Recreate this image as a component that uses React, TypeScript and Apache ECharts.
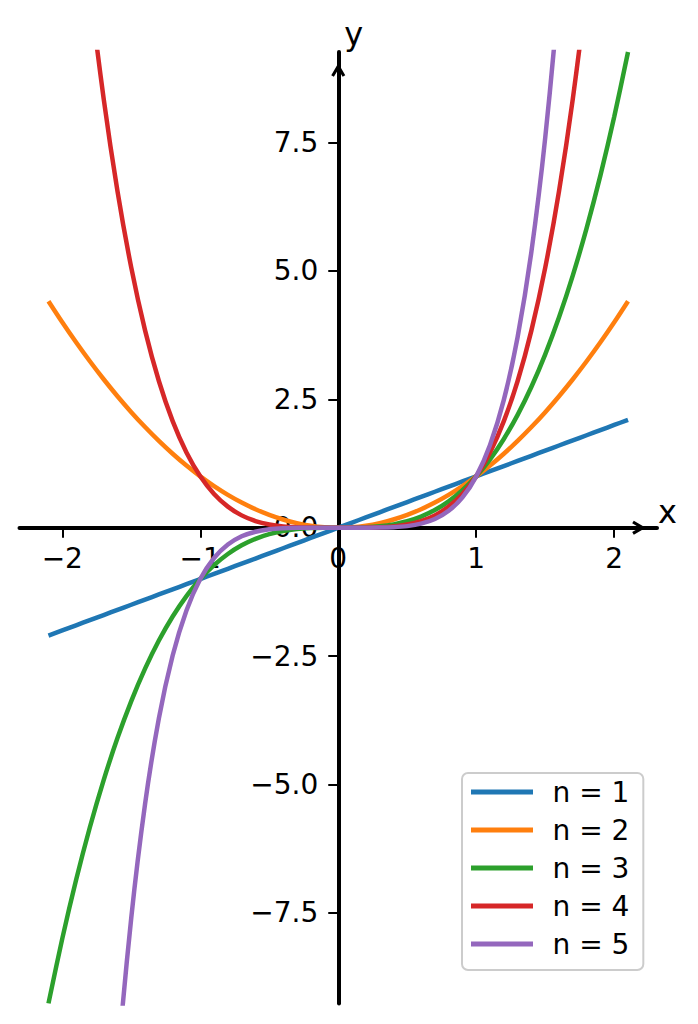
import React, { useEffect, useRef } from "react";
import * as echarts from "echarts";

// Sample positions along x and the value of x^n at each of them
const xValues = [
  -2.1, -2.0, -1.9, -1.8, -1.7, -1.6, -1.5, -1.4, -1.3, -1.2, -1.1, -1.0, -0.9, -0.8, -0.7, -0.6, -0.5, -0.4, -0.3, -0.2, -0.1,
  0, 0.1, 0.2, 0.3, 0.4, 0.5, 0.6, 0.7, 0.8, 0.9, 1.0, 1.1, 1.2, 1.3, 1.4, 1.5, 1.6, 1.7, 1.8, 1.9, 2.0, 2.1,
];
const powerN1 = [
  -2.1, -2.0, -1.9, -1.8, -1.7, -1.6, -1.5, -1.4, -1.3, -1.2, -1.1, -1.0, -0.9, -0.8, -0.7, -0.6, -0.5, -0.4, -0.3, -0.2, -0.1,
  0, 0.1, 0.2, 0.3, 0.4, 0.5, 0.6, 0.7, 0.8, 0.9, 1.0, 1.1, 1.2, 1.3, 1.4, 1.5, 1.6, 1.7, 1.8, 1.9, 2.0, 2.1,
];
const powerN2 = [
  4.41, 4.0, 3.61, 3.24, 2.89, 2.56, 2.25, 1.96, 1.69, 1.44, 1.21, 1.0, 0.81, 0.64, 0.49, 0.36, 0.25, 0.16, 0.09, 0.04, 0.01,
  0, 0.01, 0.04, 0.09, 0.16, 0.25, 0.36, 0.49, 0.64, 0.81, 1.0, 1.21, 1.44, 1.69, 1.96, 2.25, 2.56, 2.89, 3.24, 3.61, 4.0, 4.41,
];
const powerN3 = [
  -9.261, -8.0, -6.859, -5.832, -4.913, -4.096, -3.375, -2.744, -2.197, -1.728, -1.331, -1.0, -0.729, -0.512, -0.343, -0.216,
  -0.125, -0.064, -0.027, -0.008, -0.001, 0, 0.001, 0.008, 0.027, 0.064, 0.125, 0.216, 0.343, 0.512, 0.729, 1.0, 1.331, 1.728,
  2.197, 2.744, 3.375, 4.096, 4.913, 5.832, 6.859, 8.0, 9.261,
];
const powerN4 = [
  19.448, 16.0, 13.032, 10.498, 8.352, 6.554, 5.063, 3.842, 2.856, 2.074, 1.464, 1.0, 0.656, 0.41, 0.24, 0.13, 0.063, 0.026,
  0.008, 0.002, 0.0001, 0, 0.0001, 0.002, 0.008, 0.026, 0.063, 0.13, 0.24, 0.41, 0.656, 1.0, 1.464, 2.074, 2.856, 3.842, 5.063,
  6.554, 8.352, 10.498, 13.032, 16.0, 19.448,
];
const powerN5 = [
  -40.841, -32.0, -24.761, -18.896, -14.199, -10.486, -7.594, -5.378, -3.713, -2.488, -1.611, -1.0, -0.59, -0.328, -0.168,
  -0.078, -0.031, -0.01, -0.002, -0.0003, -0.00001, 0, 0.00001, 0.0003, 0.002, 0.01, 0.031, 0.078, 0.168, 0.328, 0.59, 1.0,
  1.611, 2.488, 3.713, 5.378, 7.594, 10.486, 14.199, 18.896, 24.761, 32.0, 40.841,
];

const seriesNames = ["n = 1", "n = 2", "n = 3", "n = 4", "n = 5"];
const seriesValues = [powerN1, powerN2, powerN3, powerN4, powerN5];
const seriesColors = ["#1f77b4", "#ff7f0e", "#2ca02c", "#d62728", "#9467bd"];

const xTickValues = [-2, -1, 0, 1, 2];
const yTickValues = [-7.5, -5, -2.5, 0, 2.5, 5, 7.5];
const xLimits = [-2.31, 2.31];
const yLimits = [-9.261, 9.261];

const FONT = "DejaVu Sans";

// Tick text with a real minus sign
const signed = (v: number, digits: number) => (v < 0 ? "\u2212" : "") + Math.abs(v).toFixed(digits);

// Open arrow head drawn at the far end of each axis (tip points up before rotation)
const ARROW_HEAD = "path://M7,0 L14,12 L11.4,13.6 L7,6.2 L2.6,13.6 L0,12 Z";

export default function App() {
  const ref = useRef<HTMLDivElement>(null);

  useEffect(() => {
    const chart = echarts.init(ref.current!, null, { renderer: "svg" });

    const axisLine = {
      show: true,
      onZero: false,
      symbol: ["none", ARROW_HEAD],
      symbolSize: [14, 14],
      symbolOffset: [0, -18],
      lineStyle: { color: "#000", width: 4 },
    };

    chart.setOption({
      animation: false,
      backgroundColor: "#fff",
      grid: { left: 19.5, right: 41, top: 52, bottom: 20.6, containLabel: false, outerBoundsMode: "none" },
      xAxis: {
        type: "value",
        position: "bottom",
        min: xLimits[0],
        max: xLimits[1],
        name: "x",
        nameLocation: "end",
        nameGap: 1,
        nameTextStyle: { fontFamily: FONT, fontSize: 32, color: "#000", align: "left", verticalAlign: "bottom" },
        axisLine,
        axisTick: { show: true, length: 10, lineStyle: { color: "#000", width: 2 }, customValues: xTickValues },
        axisLabel: {
          show: true,
          margin: 17,
          fontFamily: FONT,
          fontSize: 28,
          color: "#000",
          customValues: xTickValues,
          formatter: (v: number) => signed(v, 0),
        },
        splitLine: { show: false },
      },
      yAxis: {
        type: "value",
        position: "left",
        min: yLimits[0],
        max: yLimits[1],
        name: "y",
        nameLocation: "end",
        nameGap: 2,
        nameTextStyle: {
          fontFamily: FONT,
          fontSize: 32,
          color: "#000",
          align: "left",
          verticalAlign: "bottom",
          padding: [0, 0, 0, 6],
        },
        axisLine,
        axisTick: { show: true, length: 10, lineStyle: { color: "#000", width: 2 }, customValues: yTickValues },
        axisLabel: {
          show: true,
          margin: 20,
          fontFamily: FONT,
          fontSize: 28,
          color: "#000",
          customValues: yTickValues,
          formatter: (v: number) => signed(v, 1),
        },
        splitLine: { show: false },
      },
      legend: {
        orient: "vertical",
        left: 462,
        top: 773,
        padding: [5, 14, 12, 9],
        itemGap: 10,
        itemWidth: 62,
        itemHeight: 5,
        icon: "rect",
        selectedMode: false,
        backgroundColor: "rgba(255,255,255,0.8)",
        borderColor: "#cccccc",
        borderWidth: 2,
        borderRadius: 6,
        data: seriesNames,
        formatter: (name: string) => "{t|" + name + "}",
        textStyle: {
          fontFamily: FONT,
          fontSize: 28,
          color: "#000",
          rich: { t: { fontFamily: FONT, fontSize: 28, color: "#000", lineHeight: 32, padding: [0, 0, 0, 14.5] } },
        },
      },
      series: seriesNames.map((name, i) => ({
        type: "line",
        name,
        data: xValues.map((x, k) => [x, seriesValues[i][k]]),
        showSymbol: false,
        symbol: "none",
        smooth: 0.3,
        clip: true,
        color: seriesColors[i],
        lineStyle: { color: seriesColors[i], width: 4.5 },
        z: 2 + i,
      })),
    });

    // Move both spines onto the origin, so the axes cross at (0, 0) with their ticks and labels
    const origin = chart.convertToPixel({ gridIndex: 0 }, [0, 0]) as number[];
    const corner = chart.convertToPixel({ gridIndex: 0 }, [xLimits[0], yLimits[0]]) as number[];
    chart.setOption({
      xAxis: { offset: origin[1] - corner[1] },
      yAxis: { offset: corner[0] - origin[0] },
    });

    return () => chart.dispose();
  }, []);

  return <div ref={ref} style={{ position: "absolute", left: 0, top: 0, width: 698, height: 1024 }} />;
}
